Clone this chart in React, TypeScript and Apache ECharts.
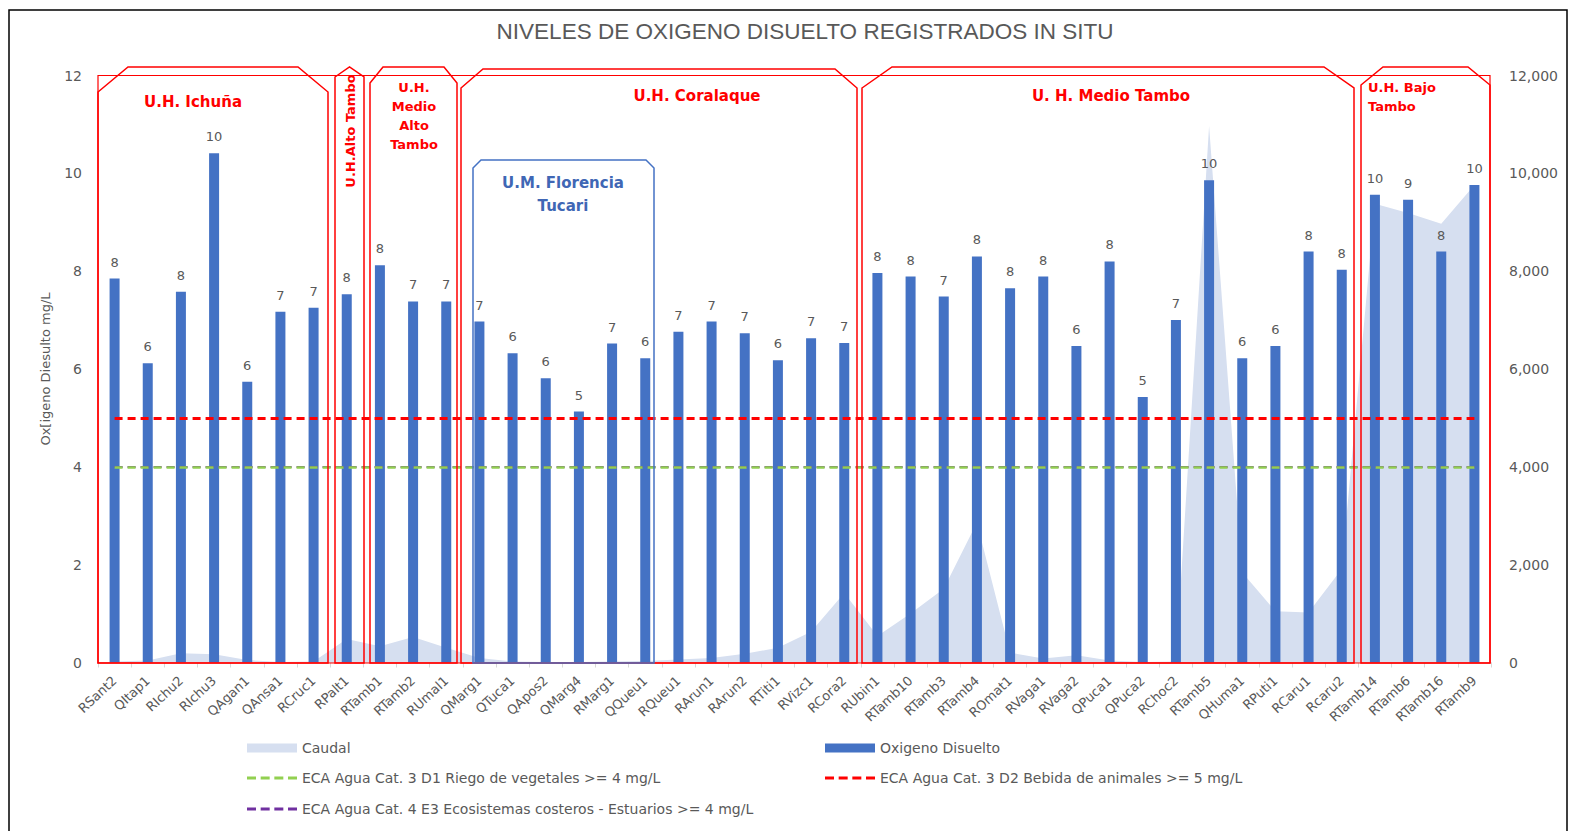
import React, { useEffect, useRef } from "react";
import * as echarts from "echarts";

// ---------- DATA ----------
const categories = [
  "RSant2", "QItap1", "RIchu2", "RIchu3", "QAgan1", "QAnsa1", "RCruc1",
  "RPalt1",
  "RTamb1", "RTamb2", "RUmal1",
  "QMarg1", "QTuca1", "QApos2", "QMarg4", "RMarg1", "QQueu1",
  "RQueu1", "RArun1", "RArun2", "RTiti1", "RVizc1", "RCora2",
  "RUbin1", "RTamb10", "RTamb3", "RTamb4", "ROmat1", "RVaga1", "RVaga2",
  "QPuca1", "QPuca2", "RChoc2", "RTamb5", "QHuma1", "RPuti1", "RCaru1", "Rcaru2",
  "RTamb14", "RTamb6", "RTamb16", "RTamb9",
];

const oxigenoDisuelto = [
  7.85, 6.12, 7.58, 10.41, 5.74, 7.17, 7.25,
  7.53,
  8.12, 7.38, 7.38,
  6.97, 6.32, 5.81, 5.13, 6.52, 6.22,
  6.76, 6.97, 6.73, 6.18, 6.63, 6.53,
  7.96, 7.89, 7.48, 8.3, 7.65, 7.89, 6.47,
  8.2, 5.43, 7.0, 9.86, 6.22, 6.47, 8.4, 8.03,
  9.56, 9.46, 8.4, 9.76,
];

const caudal = [
  20, 40, 190, 170, 50, 10, 20,
  480,
  330, 520, 300,
  90, 20, 10, 10, 20, 30,
  60, 90, 180, 300, 630, 1420,
  540, 1000, 1510, 2860, 200, 80, 150,
  40, 10, 20, 10970, 1840, 1050, 1020, 1910,
  9380, 9190, 8970, 9760,
];

const eca3D1 = 4; // Riego de vegetales
const eca3D2 = 5; // Bebida de animales
const eca4E3 = 4; // Ecosistemas costeros - Estuarios

const leftAxis = { min: 0, max: 12, interval: 2 };
const rightAxis = { min: 0, max: 12000, interval: 2000 };

const NAME_CAUDAL = "Caudal";
const NAME_OD = "Oxigeno Disuelto";
const NAME_D1 = "ECA Agua Cat. 3 D1 Riego de vegetales >= 4 mg/L";
const NAME_D2 = "ECA Agua Cat. 3 D2 Bebida de animales >= 5 mg/L";
const NAME_E3 = "ECA Agua Cat. 4 E3 Ecosistemas costeros - Estuarios >= 4 mg/L";

// ---------- STYLE / LAYOUT ----------
const FONT = "DejaVu Sans";
const GRAY = "#595959";
const RED = "#FF0000";
const BLUE = "#4472C4";
const DASH_ICON = "path://M0,0h9v3h-9zM13.67,0h9v3h-9zM27.33,0h9v3h-9zM41,0h9v3h-9z";

type Box = { x1: number; x2: number; top: number; cw: number; ch: number; color: string; bottom: number };
const annotationBoxes: Box[] = [
  { x1: 98, x2: 328, top: 67, cw: 30, ch: 25, color: RED, bottom: 663 },
  { x1: 335, x2: 364, top: 67, cw: 14.5, ch: 10, color: RED, bottom: 663 },
  { x1: 370, x2: 457, top: 67, cw: 13, ch: 16, color: RED, bottom: 663 },
  { x1: 461, x2: 857, top: 69, cw: 22, ch: 19, color: RED, bottom: 663 },
  { x1: 862, x2: 1354, top: 67, cw: 30, ch: 21, color: RED, bottom: 663 },
  { x1: 1361, x2: 1490, top: 67, cw: 22, ch: 18, color: RED, bottom: 663 },
  { x1: 473, x2: 654, top: 160, cw: 8, ch: 8, color: BLUE, bottom: 663 },
];

function snipPoly(b: Box) {
  return [
    [b.x1, b.top + b.ch],
    [b.x1 + b.cw, b.top],
    [b.x2 - b.cw, b.top],
    [b.x2, b.top + b.ch],
    [b.x2, b.bottom],
    [b.x1, b.bottom],
  ];
}

function redText(x: number, y: number, text: string, size: number, extra: any = {}) {
  return {
    type: "text",
    x,
    y,
    z: 110,
    silent: true,
    rotation: extra.rotation || 0,
    style: {
      text,
      fill: extra.fill || RED,
      fontSize: size,
      fontWeight: extra.fontWeight || "bold",
      fontFamily: FONT,
      align: extra.align || "center",
      verticalAlign: extra.verticalAlign || "middle",
      lineHeight: extra.lineHeight || size * 1.3,
    },
  };
}

function thresholdSeries(name: string, value: number, color: string, width: number, z: number) {
  const last = categories.length - 1;
  return {
    name,
    type: "line",
    data: [],
    symbol: "none",
    z,
    itemStyle: { color },
    lineStyle: { color, width, type: [8, 5] },
    markLine: {
      silent: true,
      symbol: "none",
      z,
      label: { show: false },
      lineStyle: { color, width, type: [8, 5] },
      data: [[{ coord: [0, value] }, { coord: [last, value] }]],
    },
  };
}

function legendItem(name: string, left: number, top: number, icon: string, h: number) {
  return {
    data: [{ name, icon }],
    left,
    top,
    padding: 0,
    itemWidth: 50,
    itemHeight: h,
    itemGap: 6,
    selectedMode: false,
    textStyle: { color: GRAY, fontSize: 14, fontFamily: FONT },
  };
}

export default function App() {
  const ref = useRef<HTMLDivElement>(null);

  useEffect(() => {
    if (!ref.current) return;
    const chart = echarts.init(ref.current, undefined, { renderer: "svg" });

    const graphic: any[] = [
      {
        type: "rect",
        z: 120,
        silent: true,
        shape: { x: 9, y: 10, width: 1558, height: 840 },
        style: { fill: "none", stroke: "#000", lineWidth: 1.5 },
      },
      {
        type: "text",
        x: 805,
        y: 31,
        z: 110,
        silent: true,
        style: {
          text: "NIVELES DE OXIGENO DISUELTO REGISTRADOS IN SITU",
          fill: GRAY,
          fontSize: 22.5,
          fontFamily: "Liberation Sans",
          align: "center",
          verticalAlign: "middle",
        },
      },
      {
        type: "rect",
        z: 100,
        silent: true,
        shape: { x: 98, y: 75.5, width: 1392, height: 587.5 },
        style: { fill: "none", stroke: RED, lineWidth: 1.2 },
      },
    ];

    annotationBoxes.forEach((b) => {
      graphic.push({
        type: "polygon",
        z: 100,
        silent: true,
        shape: { points: snipPoly(b) },
        style: { fill: "none", stroke: b.color, lineWidth: 1.5 },
      });
    });

    graphic.push(
      redText(193, 102, "U.H. Ichuña", 15),
      redText(350, 131, "U.H.Alto Tambo", 13, { rotation: Math.PI / 2 }),
      redText(414, 78, "U.H.\nMedio\nAlto\nTambo", 13, { verticalAlign: "top", lineHeight: 19 }),
      redText(697, 96, "U.H. Coralaque", 15),
      redText(1111, 96, "U. H. Medio Tambo", 15),
      redText(1368, 78, "U.H. Bajo\nTambo", 13, { align: "left", verticalAlign: "top", lineHeight: 19 }),
      redText(563, 171, "U.M. Florencia\nTucari", 15, { verticalAlign: "top", lineHeight: 23, fill: "#4067B5" })
    );

    chart.setOption({
      animation: false,
      backgroundColor: "#ffffff",
      grid: { left: 98, right: 83, top: 75.5, bottom: 168.5, containLabel: false },
      legend: [
        legendItem(NAME_CAUDAL, 247, 741, "rect", 9),
        legendItem(NAME_OD, 825, 741, "rect", 9),
        legendItem(NAME_D1, 247, 771, DASH_ICON, 3),
        legendItem(NAME_D2, 825, 771, DASH_ICON, 3),
        legendItem(NAME_E3, 247, 802, DASH_ICON, 3),
      ],
      xAxis: {
        type: "category",
        data: categories,
        boundaryGap: true,
        axisLine: { show: true, lineStyle: { color: "#D9D9D9" } },
        axisTick: { show: true, length: 5, lineStyle: { color: "#D9D9D9" } },
        axisLabel: {
          interval: 0,
          rotate: 43,
          color: GRAY,
          fontSize: 13,
          fontFamily: FONT,
          margin: 16,
        },
        splitLine: { show: false },
      },
      yAxis: [
        {
          type: "value",
          ...leftAxis,
          splitLine: { show: false },
          axisLine: { show: false },
          axisTick: { show: false },
          axisLabel: { color: GRAY, fontSize: 14, fontFamily: FONT, margin: 16 },
          name: "Ox[igeno Diesulto mg/L",
          nameLocation: "middle",
          nameGap: 46,
          nameRotate: 90,
          nameTextStyle: { color: GRAY, fontSize: 13, fontFamily: FONT },
        },
        {
          type: "value",
          position: "right",
          ...rightAxis,
          splitLine: { show: false },
          axisLine: { show: false },
          axisTick: { show: false },
          axisLabel: {
            color: GRAY,
            fontSize: 14,
            fontFamily: FONT,
            margin: 18,
            formatter: (v: number) => v.toLocaleString("en-US"),
          },
        },
      ],
      series: [
        {
          name: NAME_CAUDAL,
          type: "line",
          yAxisIndex: 1,
          data: caudal,
          symbol: "none",
          z: 1,
          itemStyle: { color: "#D6DFF0" },
          lineStyle: { width: 0, color: "#D6DFF0" },
          areaStyle: { color: "#D6DFF0", opacity: 1 },
        },
        {
          name: NAME_OD,
          type: "bar",
          data: oxigenoDisuelto,
          barWidth: 10,
          z: 2,
          itemStyle: { color: BLUE },
          label: {
            show: true,
            position: "top",
            distance: 10,
            color: GRAY,
            fontSize: 13,
            fontFamily: FONT,
            formatter: (p: any) => String(Math.round(p.value)),
          },
        },
        thresholdSeries(NAME_E3, eca4E3, "#7030A0", 2, 4),
        thresholdSeries(NAME_D1, eca3D1, "#92D050", 2.5, 5),
        thresholdSeries(NAME_D2, eca3D2, "#FF0000", 3, 6),
      ],
      graphic,
    });

    return () => chart.dispose();
  }, []);

  return (
    <div
      ref={ref}
      style={{ position: "fixed", left: 0, top: 0, width: 1574, height: 831, background: "#fff" }}
    />
  );
}
